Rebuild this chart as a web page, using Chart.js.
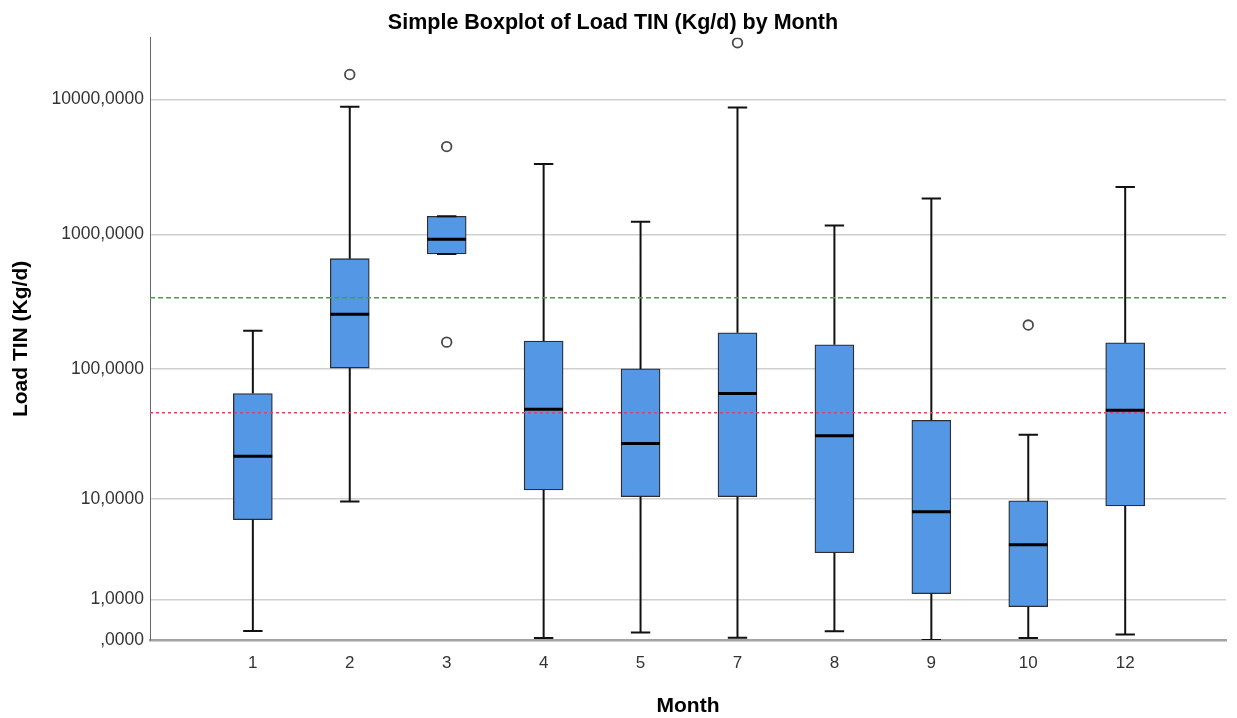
<!DOCTYPE html>
<html>
<head>
<meta charset="utf-8">
<title>Simple Boxplot of Load TIN (Kg/d) by Month</title>
<script src="https://cdn.jsdelivr.net/npm/chart.js@4/dist/chart.umd.min.js"></script>
<style>
  html, body { margin: 0; padding: 0; background: #ffffff; }
  #wrap { width: 1237px; height: 718px; }
</style>
</head>
<body>
<div id="wrap"><canvas id="chart" width="1237" height="718"></canvas></div>
<script>
// Box summary per month (Load TIN, Kg/d)
const months       = ['1', '2', '3', '4', '5', '7', '8', '9', '10', '12'];
const whiskerLow   = [0.165, 9.6, 718, 0.034, 0.137, 0.041, 0.16, 0, 0.034, 0.099];
const quartile1    = [6.77, 101.8, 718, 11.9, 10.5, 10.5, 3.42, 1.20, 0.763, 8.8];
const median       = [21.9, 256, 921, 49.9, 27.5, 65.7, 31.4, 7.9, 4.06, 49.2];
const quartile3    = [65.7, 662, 1364, 162, 100.4, 186.5, 152, 41.2, 9.7, 157];
const whiskerHigh  = [193, 8820, 1364, 3325, 1241, 8730, 1166, 1848, 32.0, 2249];

// Outlying cases
const outlierMonth = ['2', '3', '3', '7', '10'];
const outlierValue = [15290, 4477, 159, 26250, 213];

// Reference lines
const refUpper = 340;
const refLower = 47;

// Value axis ticks
const tickValues = [0, 1, 10, 100, 1000, 10000];
const tickLabels = [',0000', '1,0000', '10,0000', '100,0000', '1000,0000', '10000,0000'];

// Safe-log transform used by the value axis
const tr = v => Math.log10(1 + v);

const FONT = "'Liberation Sans', Arial, sans-serif";
const X_MIN = -1.061, X_MAX = 10.04;
const Y_MAX = 4.456;
const CAP_HALF = 0.1;
const BOX_HALF = 0.2;

const idx = months.map((_, i) => i);

const boxes = idx.map(i => ({ x: i, y: [tr(quartile1[i]), tr(quartile3[i])] }));

const stems = [];
const caps = [];
const medians = [];
idx.forEach(i => {
  stems.push({ x: i, y: tr(quartile3[i]) }, { x: i, y: tr(whiskerHigh[i]) }, { x: i, y: null });
  stems.push({ x: i, y: tr(whiskerLow[i]) }, { x: i, y: tr(quartile1[i]) }, { x: i, y: null });
  caps.push({ x: i - CAP_HALF, y: tr(whiskerHigh[i]) }, { x: i + CAP_HALF, y: tr(whiskerHigh[i]) }, { x: i, y: null });
  caps.push({ x: i - CAP_HALF, y: tr(whiskerLow[i]) }, { x: i + CAP_HALF, y: tr(whiskerLow[i]) }, { x: i, y: null });
  medians.push({ x: i - BOX_HALF, y: tr(median[i]) }, { x: i + BOX_HALF, y: tr(median[i]) }, { x: i, y: null });
});

const outliers = outlierMonth.map((m, k) => ({ x: months.indexOf(m), y: tr(outlierValue[k]) }));

const lineBase = { type: 'line', pointRadius: 0, spanGaps: false, tension: 0, fill: false };

new Chart(document.getElementById('chart'), {
  type: 'bar',
  data: {
    datasets: [
      {
        type: 'bar',
        data: boxes,
        backgroundColor: 'rgb(84,151,228)',
        borderColor: '#2e2e2e',
        borderWidth: 1.3,
        borderSkipped: false,
        barThickness: 39,
        order: 5
      },
      Object.assign({}, lineBase, { data: stems, borderColor: '#111111', borderWidth: 2, order: 4 }),
      Object.assign({}, lineBase, { data: caps, borderColor: '#111111', borderWidth: 2, order: 4 }),
      Object.assign({}, lineBase, { data: medians, borderColor: '#000000', borderWidth: 3, order: 3 }),
      Object.assign({}, lineBase, {
        data: [{ x: X_MIN, y: tr(refUpper) }, { x: X_MAX, y: tr(refUpper) }],
        borderColor: 'rgb(70,160,70)', borderWidth: 1.5, borderDash: [5, 3], order: 2
      }),
      Object.assign({}, lineBase, {
        data: [{ x: X_MIN, y: tr(refLower) }, { x: X_MAX, y: tr(refLower) }],
        borderColor: 'rgb(232,60,100)', borderWidth: 1.5, borderDash: [3, 3], order: 2
      }),
      {
        type: 'scatter',
        data: outliers,
        pointStyle: 'circle',
        pointRadius: 4.8,
        pointBackgroundColor: '#ffffff',
        pointBorderColor: '#4a4a4a',
        pointBorderWidth: 1.8,
        order: 1
      }
    ]
  },
  options: {
    responsive: false,
    animation: false,
    devicePixelRatio: 1,
    layout: { padding: { left: 0, right: 11, top: 0, bottom: 0 } },
    plugins: {
      legend: { display: false },
      tooltip: { enabled: false },
      title: {
        display: true,
        text: 'Simple Boxplot of Load TIN (Kg/d) by Month',
        color: '#000000',
        font: { family: FONT, size: 21.5, weight: 'bold', lineHeight: 1.2 },
        padding: { top: 10, bottom: 2 }
      }
    },
    scales: {
      x: {
        type: 'linear',
        offset: false,
        min: X_MIN,
        max: X_MAX,
        afterBuildTicks: s => { s.ticks = idx.map(i => ({ value: i })); },
        afterFit: s => { s.height = 78; },
        ticks: {
          callback: (v, i) => months[i],
          color: '#333333',
          font: { family: FONT, size: 17 },
          padding: 13,
          maxRotation: 0,
          autoSkip: false
        },
        grid: { display: false, drawTicks: false },
        border: { display: true, color: '#a3a3a3', width: 2.5 },
        title: {
          display: true,
          text: 'Month',
          color: '#000000',
          font: { family: FONT, size: 21, weight: 'bold', lineHeight: 1.1 },
          padding: { top: 0, bottom: 0 }
        }
      },
      y: {
        type: 'linear',
        min: 0,
        max: Y_MAX,
        afterBuildTicks: s => { s.ticks = tickValues.map(v => ({ value: tr(v) })); },
        afterFit: s => { s.width = 150; },
        ticks: {
          callback: (v, i) => tickLabels[i],
          color: '#333333',
          font: { family: FONT, size: 17.5 },
          padding: 6,
          autoSkip: false
        },
        grid: {
          drawTicks: false,
          lineWidth: 1.6,
          color: c => (c.tick && c.tick.value === 0) ? 'rgba(0,0,0,0)' : '#d0d0d0'
        },
        border: { display: true, color: '#666666', width: 1 },
        title: {
          display: true,
          text: 'Load TIN (Kg/d)',
          color: '#000000',
          font: { family: FONT, size: 21, weight: 'bold', lineHeight: 1.2 },
          padding: { top: 9, bottom: 0 }
        }
      }
    }
  }
});
</script>
</body>
</html>
